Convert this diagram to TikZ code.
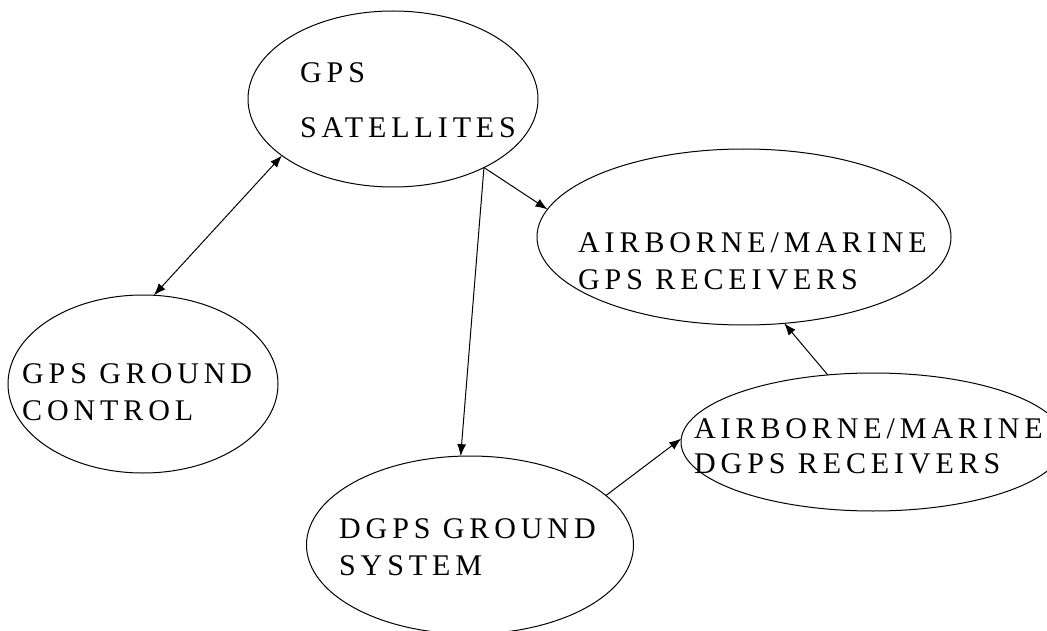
\documentclass[tikz,border=0pt]{standalone}
\usepackage{fontspec}
\setmainfont{Liberation Serif}[LetterSpace=16.3]
\usetikzlibrary{shapes.geometric,arrows.meta}
\begin{document}
\begin{tikzpicture}[x=1pt,y=-1pt,
  oval/.style={ellipse,draw,line width=1pt,inner sep=0pt,outer sep=0pt},
  lbl/.style={anchor=base west,inner sep=0pt,font=\fontsize{30}{36}\selectfont},
  conn/.style={line width=1pt,-{Latex[length=12pt,width=9pt]}},
  both/.style={line width=1pt,{Latex[length=12pt,width=9pt]}-{Latex[length=12pt,width=9pt]}}]
\useasboundingbox (0,0) rectangle (1047,631);
\begin{scope}
\clip (0,0) rectangle (1047,631);
\node[oval,minimum width=290pt,minimum height=176pt] (sat) at (393,99) {};
\node[oval,minimum width=414pt,minimum height=176pt] (agps) at (744,237) {};
\node[oval,minimum width=270pt,minimum height=178pt] (gc) at (143,384) {};
\node[oval,minimum width=384pt,minimum height=138pt] (adgps) at (873,442) {};
\node[oval,minimum width=327pt,minimum height=178pt] (dgs) at (470,545) {};
\end{scope}
\node[lbl] (satA) at (300,83) {GPS};
\node[lbl] (satB) at (300,138) {SATELLITES};
\node[lbl] (agpsA) at (578,253) {AIRBORNE/MARINE};
\node[lbl] (agpsB) at (578,289) {GPS RECEIVERS};
\node[lbl] (gcA) at (22,383) {GPS GROUND};
\node[lbl] (gcB) at (22,420) {CONTROL};
\node[lbl] (adgpsA) at (694,438) {AIRBORNE/MARINE};
\node[lbl] (adgpsB) at (694,473) {DGPS RECEIVERS};
\node[lbl] (dgsA) at (339,538) {DGPS GROUND};
\node[lbl] (dgsB) at (339,575) {SYSTEM};
\draw[both] (sat.207.2) -- (gc.83.6);
\draw[conn] (sat.-37.5) -- (agps.172.8);
\draw[conn] (sat.-37.5) -- (dgs.96.4);
\draw[conn] (dgs.20.7) -- (adgps.179.4);
\draw[conn] (adgps.124.3) -- (agps.295.3);
\end{tikzpicture}
\end{document}
